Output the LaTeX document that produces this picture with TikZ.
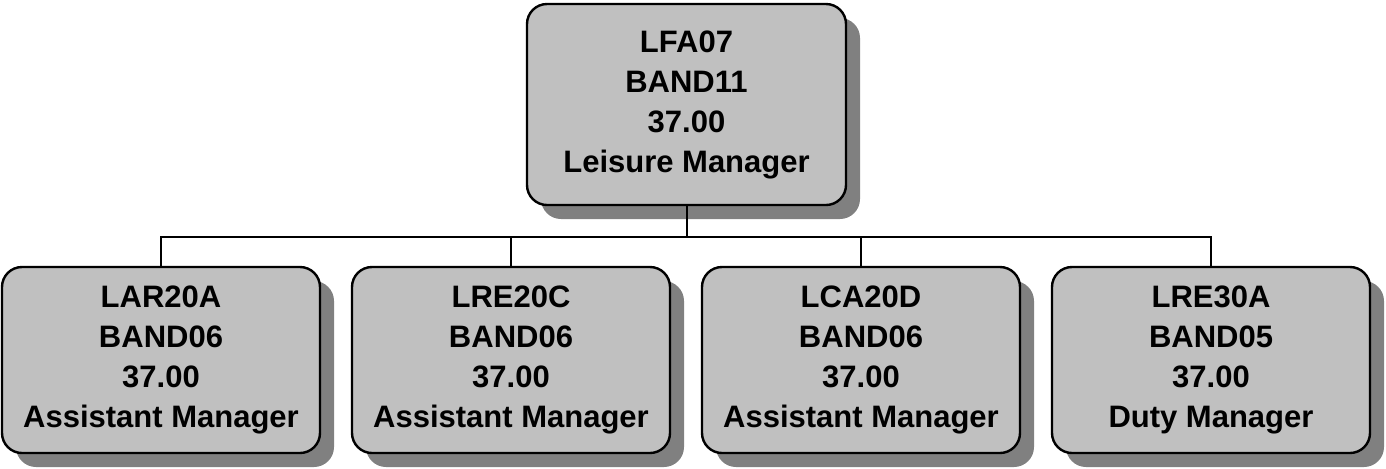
\documentclass[tikz,border=0pt]{standalone}
\usepackage{fontspec}
\setmainfont{Liberation Sans}
\usepackage{xcolor}
\definecolor{boxgrey}{HTML}{C0C0C0}
\definecolor{shadowgrey}{HTML}{808080}
\usepackage{tikz}
\usetikzlibrary{shadows}

\begin{document}
\begin{tikzpicture}[node distance=175pt,line width=1.2pt]
              \tikzstyle{post}=[draw=black,fill=boxgrey,rounded corners=10pt,align=center,
                                font=\bfseries\fontsize{15.5}{20}\selectfont,
                                drop shadow={shadow xshift=7pt,shadow yshift=-7pt,fill=shadowgrey,opacity=1}]
              \tikzstyle{staff}=[post,minimum width=159pt,minimum height=93pt,inner sep=0pt]
              \tikzstyle{head}=[post,minimum width=159.5pt,minimum height=100.5pt,inner sep=0pt]
              \tikzstyle{e}=[draw=black,line width=1pt]

              \useasboundingbox (0,0) rectangle (693pt,-234pt);

              \node[head]  (LFA)  at (343.25pt,-52.25pt) {LFA07\\BAND11\\37.00\\Leisure Manager};
              \node[staff] (LAR)  at (80.5pt,-180pt)     {LAR20A\\BAND06\\37.00\\Assistant Manager};
              \node[staff] (LREC) [right of=LAR]         {LRE20C\\BAND06\\37.00\\Assistant Manager};
              \node[staff] (LCA)  [right of=LREC]        {LCA20D\\BAND06\\37.00\\Assistant Manager};
              \node[staff] (LREA) [right of=LCA]         {LRE30A\\BAND05\\37.00\\Duty Manager};

              \coordinate (bus) at (343.25pt,-118.5pt);

              \path  (LFA.south) edge[e] (bus);
              \foreach \n in {LAR,LREC,LCA,LREA}
                \draw[e] (bus) -| (\n.north);

       \end{tikzpicture}
\end{document}
